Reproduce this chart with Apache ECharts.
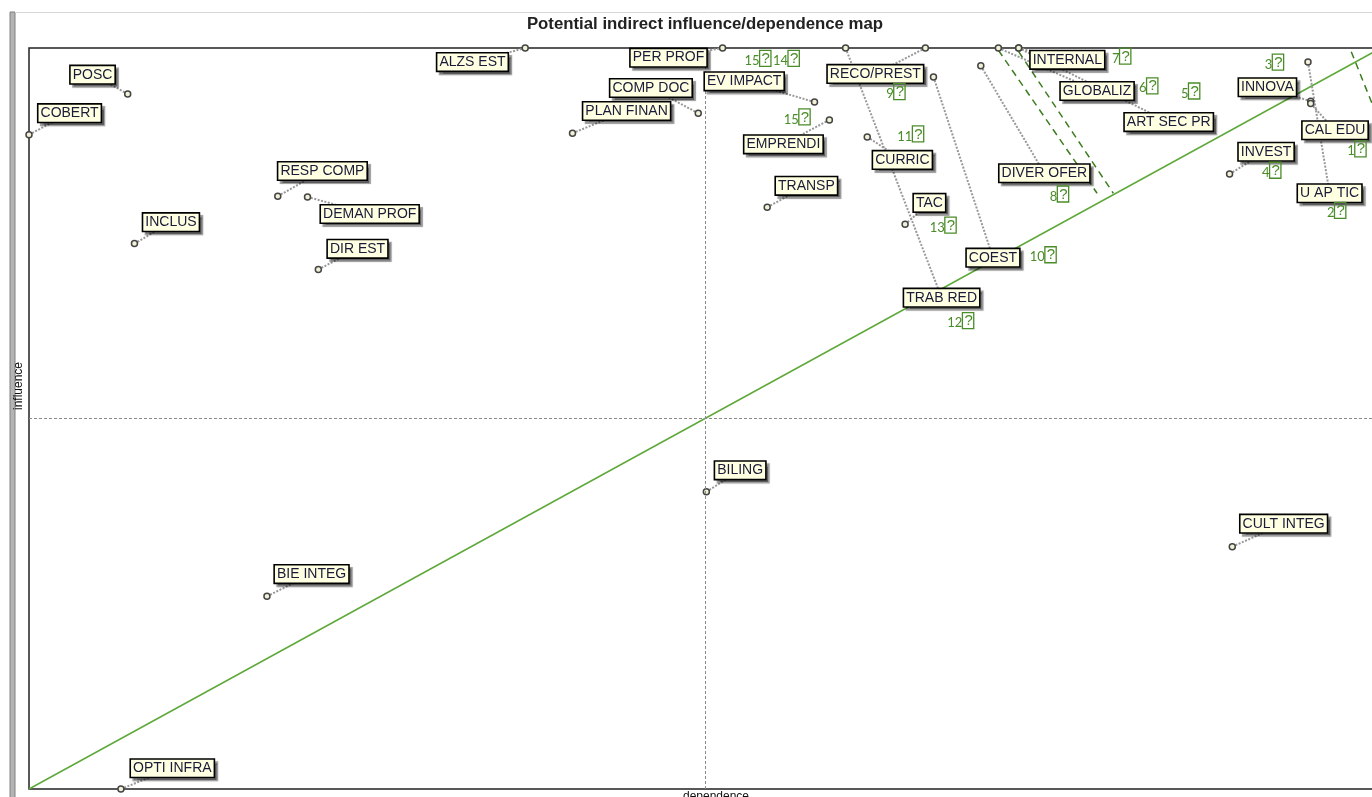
<!DOCTYPE html>
<html><head><meta charset="utf-8">
<script src="https://cdn.jsdelivr.net/npm/echarts/dist/echarts.min.js"></script>
<style>html,body{margin:0;padding:0;background:#fff;overflow:hidden;width:1372px;height:797px}#c{width:1400px;height:797px;}</style>
</head><body><div id="c"></div>
<script>
// ---- data (axis units: 0..100 on both scales) ----
const variables = ['POSC','COBERT','RESP COMP','DEMAN PROF','INCLUS','DIR EST','ALZS EST','PER PROF','COMP DOC','PLAN FINAN',
  'EV IMPACT','EMPRENDI','TRANSP','TRAB RED','RECO/PREST','CURRIC','COEST','DIVER OFER','TAC','GLOBALIZ',
  'INTERNAL','ART SEC PR','INNOVA','CAL EDU','U AP TIC','INVEST','BILING','CULT INTEG','BIE INTEG','OPTI INFRA'];
const dependence = [7.3, 0, 18.4, 20.6, 7.8, 21.4, 36.7, 51.3, 49.5, 40.2,
  58.1, 59.2, 54.6, 60.4, 66.3, 62.0, 66.9, 70.4, 64.8, 71.7,
  73.2, 73.2, 94.8, 94.8, 94.6, 88.8, 50.1, 89.0, 17.6, 6.8];
const influence = [93.8, 88.3, 80.0, 79.9, 73.6, 70.1, 100, 100, 91.2, 88.5,
  92.7, 90.3, 78.5, 100, 100, 88.0, 96.1, 97.6, 76.2, 100,
  100, 100, 92.8, 92.5, 98.1, 83.0, 40.1, 32.7, 26.0, 0];
// label anchor positions (axis units)
const labelDependence = [4.7, 3.0, 21.7, 25.2, 10.5, 24.3, 32.8, 47.3, 46.0, 44.2,
  52.9, 55.8, 57.5, 67.5, 62.6, 64.6, 71.3, 75.1, 66.6, 79.0,
  76.8, 84.3, 91.6, 96.6, 96.2, 91.5, 52.6, 92.8, 20.9, 10.6];
const labelInfluence = [96.4, 91.2, 83.4, 77.6, 76.5, 72.9, 98.1, 98.7, 94.6, 91.5,
  95.5, 87.0, 81.4, 66.3, 96.5, 84.9, 71.7, 83.1, 79.1, 94.2,
  98.4, 90.0, 94.7, 88.9, 80.4, 86.0, 43.0, 35.8, 29.0, 2.8];
// green rank annotations
const rankText = ['15','14','15','9','11','13','12','10','8','7','6','5','3','4','2','1'];
const rankDependence = [53.9, 56.0, 56.8, 64.1, 65.2, 67.6, 68.9, 75.0, 76.2, 80.8, 82.8, 85.9, 92.1, 91.9, 96.7, 98.2];
const rankInfluence = [98.6, 98.6, 90.7, 94.1, 88.4, 76.1, 63.2, 72.1, 80.3, 98.9, 94.9, 94.2, 98.1, 83.5, 78.1, 86.4];
// diagonal and displacement dashes
const diagonal = [[0, 0], [100, 100]];
const dashStart = [[71.7, 99.7], [73.2, 99.5], [97.8, 99.5]];
const dashEnd = [[79.0, 80.4], [80.2, 80.4], [100, 89.5]];
const axisMin = 0, axisMax = 100, midValue = 50;

const chart = echarts.init(document.getElementById('c'), null, {renderer: 'canvas'});

const points = variables.map((n, i) => [dependence[i], influence[i], n]);
const labels = variables.map((n, i) => [labelDependence[i], labelInfluence[i], n]);
const connectors = variables.map((n, i) => ({coords: [[dependence[i], influence[i]], [labelDependence[i], labelInfluence[i]]]}));
const ranks = rankText.map((t, i) => [rankDependence[i], rankInfluence[i], t]);
const dashes = dashStart.map((s, i) => ({coords: [s, dashEnd[i]]}));

const GREEN = '#4a8c28';

chart.setOption({
  animation: false,
  backgroundColor: '#fff',
  grid: {left: 29, top: 48, width: 1352, height: 741, show: true, borderColor: '#222', borderWidth: 1.5, backgroundColor: 'transparent'},
  xAxis: {type: 'value', min: axisMin, max: axisMax, axisLine: {show: false}, axisTick: {show: false}, axisLabel: {show: false}, splitLine: {show: false}},
  yAxis: {type: 'value', min: axisMin, max: axisMax, axisLine: {show: false}, axisTick: {show: false}, axisLabel: {show: false}, splitLine: {show: false}},
  graphic: [
    {type: 'rect', shape: {x: 10, y: 12, width: 5, height: 790}, style: {fill: '#b4b4b4', stroke: '#808080', lineWidth: 1}, silent: true},
    {type: 'line', shape: {x1: 15, y1: 12.5, x2: 1400, y2: 12.5}, style: {stroke: '#d6d6d6', lineWidth: 1}, silent: true},
    {type: 'text', x: 705, y: 24, style: {text: 'Potential indirect influence/dependence map', font: 'bold 16.8px "Liberation Sans", Arial, sans-serif', fill: '#222', align: 'center', verticalAlign: 'middle'}, silent: true},
    {type: 'text', x: 19, y: 386, rotation: Math.PI / 2, style: {text: 'influence', font: '12px "Liberation Sans", Arial, sans-serif', fill: '#111', align: 'center', verticalAlign: 'middle'}, silent: true},
    {type: 'text', x: 716, y: 791, style: {text: 'dependence', font: '12px "Liberation Sans", Arial, sans-serif', fill: '#111', align: 'center', verticalAlign: 'top'}, silent: true}
  ],
  series: [
    {
      type: 'line', data: diagonal, symbol: 'none', silent: true, z: 1,
      lineStyle: {color: '#5fa83a', width: 1.5},
      markLine: {
        silent: true, symbol: ['none', 'none'], label: {show: false},
        lineStyle: {color: '#8a8a8a', type: [3, 2], width: 1},
        data: [{xAxis: midValue}, {yAxis: midValue}]
      }
    },
    {
      type: 'lines', coordinateSystem: 'cartesian2d', data: dashes, silent: true, z: 2,
      lineStyle: {color: '#3d7d1f', width: 1.5, type: [7, 5], opacity: 1}
    },
    {
      type: 'lines', coordinateSystem: 'cartesian2d', data: connectors, silent: true, z: 3,
      lineStyle: {color: '#999', width: 2, type: [2, 1.5], opacity: 1}
    },
    {
      type: 'scatter', data: points, clip: false, silent: true, z: 4,
      symbol: 'circle', symbolSize: 6,
      itemStyle: {color: '#f2f1d8', borderColor: '#444', borderWidth: 1.5, opacity: 1}
    },
    {
      type: 'scatter', data: labels, clip: false, silent: true, z: 5,
      symbolSize: 0, itemStyle: {opacity: 1},
      label: {
        show: true, position: 'inside', formatter: p => p.data[2],
        fontFamily: '"Liberation Sans", Arial, sans-serif', fontSize: 14, color: '#1a1a3a',
        backgroundColor: '#ffffe1', borderColor: '#000', borderWidth: 1.6,
        padding: [2, 2, 1, 2],
        shadowColor: 'rgba(0,0,0,0.4)', shadowOffsetX: 3, shadowOffsetY: 3, shadowBlur: 1,
        textShadowColor: 'transparent', textShadowBlur: 0
      }
    },
    {
      type: 'scatter', data: ranks, clip: false, silent: true, z: 6,
      symbolSize: 0, itemStyle: {opacity: 1},
      label: {
        show: true, position: 'inside',
        formatter: p => '{n|' + p.data[2] + '}{b|?}',
        rich: {
          n: {fontFamily: 'Lato, "Open Sans", sans-serif', fontSize: 13, color: GREEN, verticalAlign: 'bottom', padding: [5, 0, 0, 0]},
          b: {fontFamily: '"Liberation Sans", Arial, sans-serif', fontSize: 15, color: GREEN, borderColor: GREEN, borderWidth: 1.3, padding: [1, 1, 0, 2], fontWeight: 'normal'}
        }
      }
    }
  ]
});
</script>
</body></html>
